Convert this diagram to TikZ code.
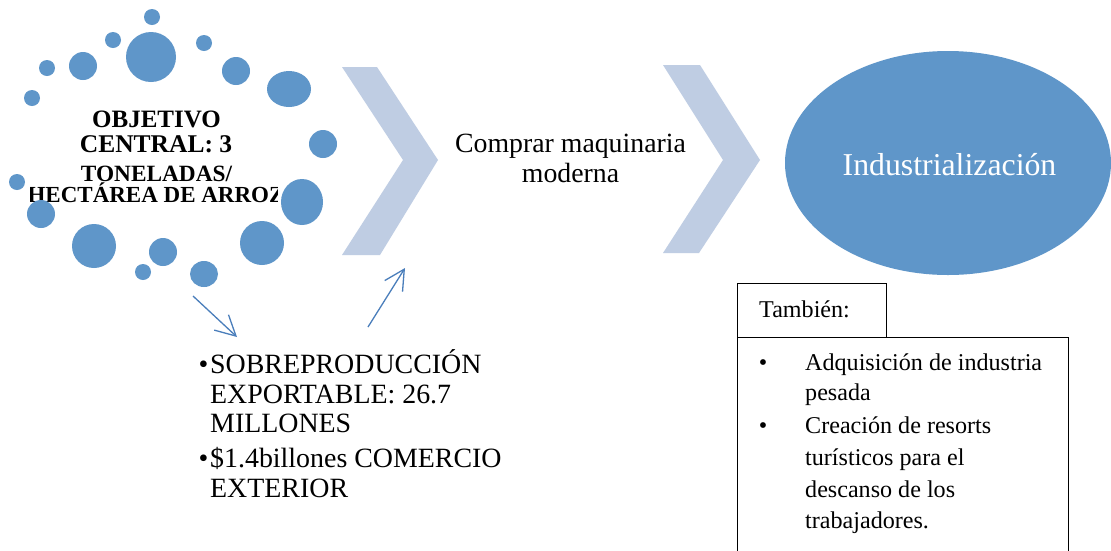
\documentclass[tikz,border=0pt]{standalone}
\usepackage{fontspec}
\setmainfont{Liberation Serif}
\usetikzlibrary{shapes.geometric,arrows.meta}
\definecolor{dotblue}{HTML}{5F96C9}
\definecolor{chevblue}{HTML}{BFCDE3}
\definecolor{arrblue}{HTML}{4A7EBB}
\begin{document}
\begin{tikzpicture}[x=1pt,y=-1pt,
  dotfill/.style={fill=dotblue},
  chevron/.style={fill=chevblue},
  arr/.style={draw=arrblue,line width=1.3pt,-{Straight Barb[length=20pt,width=21pt,line width=1.3pt]}},
  boxline/.style={draw=black,line width=1.2pt},
  objtext/.style={anchor=base,inner sep=0pt,font=\bfseries},
  bodytext/.style={anchor=base west,inner sep=0pt}]
\useasboundingbox (0,0) rectangle (1111,550);
\clip (0,0) rectangle (1111,550);
\fill[white] (0,0) rectangle (1111,550);
% central text
\node[objtext,font=\bfseries\fontsize{25}{28}\selectfont] (obj1) at (156.5,127) {OBJETIVO};
\node[objtext,font=\bfseries\fontsize{25.5}{28}\selectfont] (obj2) at (156,152) {CENTRAL: 3};
\node[objtext,font=\bfseries\fontsize{23.3}{26}\selectfont] (obj3) at (156.5,181) {TONELADAS/};
\begin{scope}
\clip (30,182) rectangle (277,215);
\node[objtext,font=\bfseries\fontsize{23}{26}\selectfont] (obj4) at (156,202) {HECTÁREA DE ARROZ};
\end{scope}
% circle cluster
\fill[dotfill] (152,17) circle[radius=8pt];
\fill[dotfill] (113,40) circle[radius=8pt];
\fill[dotfill] (151,57) circle[radius=25pt];
\fill[dotfill] (204,43) circle[radius=8pt];
\fill[dotfill] (47,68) circle[radius=8pt];
\fill[dotfill] (83,66) circle[radius=14pt];
\fill[dotfill] (236,71) circle[radius=14pt];
\fill[dotfill] (289,89) ellipse[x radius=22pt,y radius=18pt];
\fill[dotfill] (32,98) circle[radius=8pt];
\fill[dotfill] (323,144) circle[radius=14pt];
\fill[dotfill] (17,182) circle[radius=8pt];
\fill[dotfill] (41,214) circle[radius=14pt];
\fill[dotfill] (302,202) ellipse[x radius=21pt,y radius=23pt];
\fill[dotfill] (94,246) circle[radius=22pt];
\fill[dotfill] (262,243) circle[radius=22pt];
\fill[dotfill] (163,252) circle[radius=14pt];
\fill[dotfill] (143,272) circle[radius=8pt];
\fill[dotfill] (204,274) ellipse[x radius=14pt,y radius=13pt];
% chevrons
\fill[chevron] (342,67) -- (377,67) -- (438,160) -- (380,255) -- (342,255) -- (403,160) -- cycle;
\fill[chevron] (663,65) -- (700,65) -- (760,160) -- (699,253) -- (663,253) -- (723,160) -- cycle;
% middle text
\node[anchor=base,inner sep=0pt,align=center,font=\fontsize{27.8}{30}\selectfont] (comp) at (570.5,182) {Comprar maquinaria\\moderna};
% ellipse
\node[ellipse,fill=dotblue,minimum width=326pt,minimum height=224pt,inner sep=0pt] (ind) at (948,163) {};
\node[anchor=base,inner sep=0pt,text=white,font=\fontsize{31.8}{34}\selectfont] (indt) at (949.5,175) {Industrialización};
% arrows
\coordinate (a1s) at (193,296);
\coordinate (a1e) at (237,337);
\coordinate (a2s) at (368,327);
\coordinate (a2e) at (405,268);
\draw[arr] (a1s) -- (a1e);
\draw[arr] (a2s) -- (a2e);
% bottom bullets
\begin{scope}[font=\fontsize{27.9}{29.5}\selectfont]
\node[anchor=base,inner sep=0pt] (b1) at (203.5,373) {•};
\node[bodytext] (l1) at (210,373) {SOBREPRODUCCIÓN};
\node[bodytext] (l2) at (210,403) {EXPORTABLE: 26.7};
\node[bodytext] (l3) at (210,432) {MILLONES};
\node[anchor=base,inner sep=0pt] (b2) at (203.5,467) {•};
\node[bodytext] (l4) at (210,467) {\$1.4billones COMERCIO};
\node[bodytext] (l5) at (210,497) {EXTERIOR};
\end{scope}
% right boxes
\node[boxline,anchor=north west,minimum width=149pt,minimum height=54pt,inner sep=0pt] (tbox) at (737,283) {};
\node[boxline,anchor=north west,minimum width=331pt,minimum height=230pt,inner sep=0pt] (lbox) at (737,337) {};
\begin{scope}[font=\fontsize{24.1}{30}\selectfont]
\node[bodytext] (tam) at (759,317) {También:};
\node[anchor=base,inner sep=0pt] (rb1) at (763,370) {•};
\node[bodytext] (r1) at (805,370) {Adquisición de industria};
\node[bodytext] (r2) at (805,400) {pesada};
\node[anchor=base,inner sep=0pt] (rb2) at (763,433) {•};
\node[bodytext] (r3) at (805,433) {Creación de resorts};
\node[bodytext] (r4) at (805,465) {turísticos para el};
\node[bodytext] (r5) at (805,497) {descanso de los};
\node[bodytext] (r6) at (805,528) {trabajadores.};
\end{scope}
\end{tikzpicture}
\end{document}
